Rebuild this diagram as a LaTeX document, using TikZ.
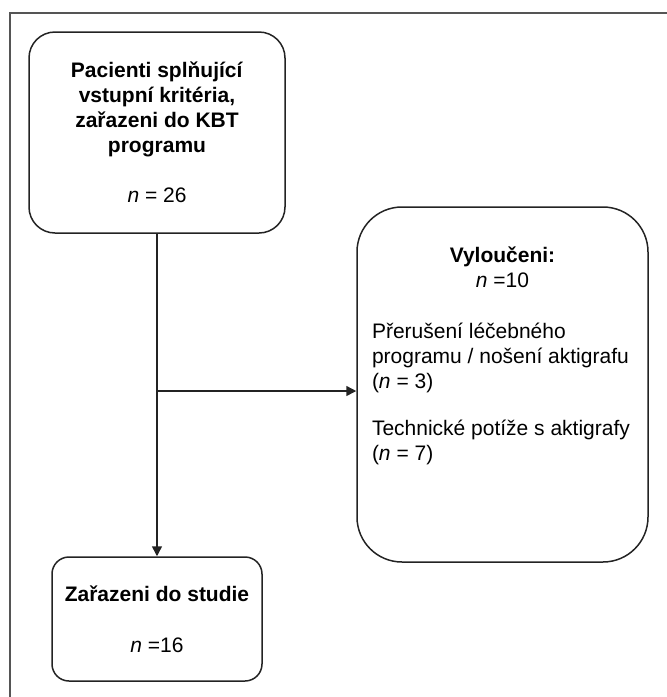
\documentclass[tikz,border=0pt]{standalone}
\usepackage{fontspec}
\setmainfont{Liberation Sans}
\usetikzlibrary{arrows.meta,positioning,calc}
\definecolor{frameCol}{RGB}{85,85,85}
\definecolor{lineCol}{RGB}{35,35,35}

\begin{document}
\begin{tikzpicture}[x=1pt, y=-1pt,
  every node/.style={font=\fontsize{21}{25}\selectfont},
  flowbox/.style n args={3}{draw=lineCol, line width=1.5pt, rounded corners=#3,
    minimum width=#1, minimum height=#2, align=center, inner sep=0pt},
  flowarrow/.style={line width=1.5pt, color=lineCol,
    -{Triangle[length=10pt, width=10pt]}},
]
\useasboundingbox (0,0) rectangle (667,697);
% frame
\draw[frameCol, line width=2pt] (10,697) -- (10,13) -- (667,13);
% START TOP
\node[flowbox={256pt}{201pt}{26pt}] (start) at (157,132.5)
  {\textbf{Pacienti splňující}\\\textbf{vstupní kritéria,}\\
   \textbf{zařazeni do KBT}\\\textbf{programu}\\[25pt]
   \textit{n} = 26};
% EXCLUDED RIGHT
\node[flowbox={291pt}{355pt}{45pt}] (excl) at (502.5,384.5)
  {\parbox[c][355pt][t]{282pt}{\vspace*{40pt}
   {\centering\textbf{Vyloučeni:}\\\textit{n} =10\par}
   \vspace{26pt}
   {\raggedright\leftskip=10.5pt
   Přerušení léčebného\\programu / nošení aktigrafu\\(\textit{n} = 3)\par
   \vspace{22pt}
   Technické potíže s aktigrafy\\(\textit{n} = 7)\par}}};
% INCLUDED BOTTOM
\node[flowbox={210pt}{124pt}{17pt}] (incl) at (157,619)
  {\textbf{Zařazeni do studie}\\[26pt]\textit{n} =16};
% connectors
\coordinate (branch) at (157,391);
\draw[flowarrow] (start.south) -- (incl.north);
\draw[flowarrow] (branch) -- (branch -| excl.west);
\end{tikzpicture}
\end{document}
